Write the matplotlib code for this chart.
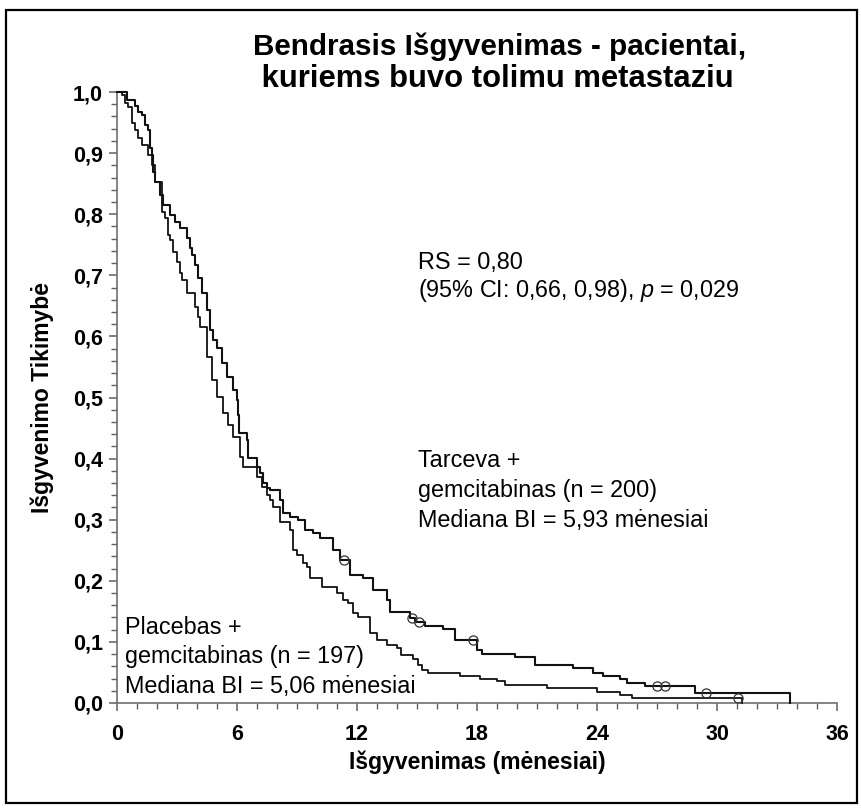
import matplotlib
matplotlib.use('Agg')
import matplotlib.pyplot as plt
import numpy as np
from matplotlib.patches import Rectangle
from matplotlib.ticker import FixedLocator, FixedFormatter, MultipleLocator

plt.rcParams['font.family'] = ['Liberation Sans', 'DejaVu Sans']
plt.rcParams['mathtext.fontset'] = 'custom'
plt.rcParams['mathtext.it'] = 'Liberation Sans:italic'
plt.rcParams['mathtext.rm'] = 'Liberation Sans'

# ---- data ----
# Tarceva + gemcitabinas: drop times (months) and survival after each drop
tarceva_t = [0.5, 0.9, 1.05, 1.25, 1.4, 1.55, 1.65, 1.75, 1.8, 1.9, 2.15, 2.3, 2.65, 2.9,
             3.15, 3.5, 3.65, 3.75, 3.9, 4.05, 4.25, 4.5, 4.65, 4.8, 5.0, 5.25, 5.5, 5.8,
             6.0, 6.05, 6.1, 6.5, 6.55, 7.0, 7.15, 7.3, 7.5, 7.65, 8.15, 8.3, 8.65, 9.05,
             9.4, 9.8, 10.15, 10.8, 11.15, 11.65, 12.3, 12.8, 13.5, 13.65, 14.65, 14.9,
             15.4, 16.3, 16.9, 18.0, 18.25, 19.9, 20.9, 22.8, 23.8, 24.3, 25.15, 25.5,
             26.4, 28.9, 33.65]
tarceva_s = [0.987, 0.977, 0.967, 0.962, 0.946, 0.938, 0.908, 0.897, 0.869, 0.853, 0.831,
             0.815, 0.799, 0.787, 0.777, 0.761, 0.745, 0.733, 0.717, 0.696, 0.671, 0.643,
             0.610, 0.594, 0.581, 0.556, 0.534, 0.512, 0.496, 0.471, 0.442, 0.430, 0.401,
             0.386, 0.376, 0.360, 0.352, 0.349, 0.332, 0.311, 0.304, 0.300, 0.283, 0.278,
             0.270, 0.250, 0.234, 0.209, 0.205, 0.185, 0.169, 0.149, 0.139, 0.133, 0.126,
             0.121, 0.103, 0.087, 0.080, 0.075, 0.062, 0.057, 0.049, 0.044, 0.039, 0.033,
             0.028, 0.016, 0.0]
tarceva_cens = [11.35, 14.75, 15.1, 17.8, 27.0, 27.4, 29.45]

# Placebas + gemcitabinas
placebo_t = [0.25, 0.4, 0.55, 0.75, 0.9, 1.05, 1.25, 1.55, 1.75, 1.9, 2.25, 2.4, 2.55, 2.65,
             2.8, 3.0, 3.15, 3.25, 3.5, 3.9, 4.05, 4.15, 4.5, 4.75, 5.0, 5.3, 5.55, 5.8,
             6.15, 6.3, 7.0, 7.25, 7.5, 7.65, 7.8, 8.15, 8.65, 8.8, 9.0, 9.3, 9.5, 9.65,
             10.25, 11.0, 11.3, 11.55, 11.8, 12.05, 12.65, 13.0, 13.5, 14.0, 14.2, 14.8,
             15.05, 15.25, 15.55, 17.15, 18.15, 19.0, 19.4, 21.5, 24.0, 25.15, 25.75, 31.25]
placebo_s = [0.995, 0.982, 0.975, 0.949, 0.938, 0.925, 0.913, 0.897, 0.881, 0.853, 0.804,
             0.794, 0.766, 0.758, 0.738, 0.722, 0.704, 0.692, 0.671, 0.648, 0.632, 0.615,
             0.566, 0.529, 0.501, 0.475, 0.455, 0.435, 0.403, 0.386, 0.370, 0.354, 0.340,
             0.332, 0.321, 0.296, 0.283, 0.250, 0.242, 0.229, 0.223, 0.205, 0.190, 0.180,
             0.169, 0.164, 0.147, 0.141, 0.115, 0.103, 0.095, 0.090, 0.079, 0.072, 0.062,
             0.054, 0.049, 0.044, 0.039, 0.036, 0.029, 0.025, 0.018, 0.013, 0.008, 0.0]
placebo_cens = [31.05]

x_ticks = [0, 6, 12, 18, 24, 30, 36]
x_ticklabels = ['0', '6', '12', '18', '24', '30', '36']
y_ticks = [0.0, 0.1, 0.2, 0.3, 0.4, 0.5, 0.6, 0.7, 0.8, 0.9, 1.0]
y_ticklabels = ['0,0', '0,1', '0,2', '0,3', '0,4', '0,5', '0,6', '0,7', '0,8', '0,9', '1,0']

title_lines = ['Bendrasis Išgyvenimas - pacientai,', ' kuriems buvo tolimu metastaziu']
xlabel = 'Išgyvenimas (mėnesiai)'
ylabel = 'Išgyvenimo Tikimybė'
stat_lines = ['RS = 0,80', r'(95% CI: 0,66, 0,98), $\mathit{p}$ = 0,029']
tarceva_lines = ['Tarceva +', 'gemcitabinas (n = 200)', 'Mediana BI = 5,93 mėnesiai']
placebo_lines = ['Placebas +', 'gemcitabinas (n = 197)', 'Mediana BI = 5,06 mėnesiai']

W, H = 862, 808
fig = plt.figure(figsize=(W / 100, H / 100), dpi=100)
ax = fig.add_axes([117 / W, 105 / H, (837 - 117) / W, (703 - 92) / H])


def draw_km(t, s, cens, lw):
    tt = np.r_[0.0, np.array(t)]
    ss = np.r_[1.0, np.array(s)]
    ax.step(tt, ss, where='post', color='#111111', lw=lw, clip_on=False, zorder=3)
    idx = np.searchsorted(tt, np.array(cens), side='right') - 1
    ax.plot(cens, ss[idx], 'o', mfc='none', mec='#333333', ms=6.6, mew=0.9,
            clip_on=False, zorder=4)


draw_km(tarceva_t, tarceva_s, tarceva_cens, 1.5)
draw_km(placebo_t, placebo_s, placebo_cens, 1.3)

ax.set_xlim(0, 36)
ax.set_ylim(0, 1.0)
for sp in ['top', 'right']:
    ax.spines[sp].set_visible(False)
for sp in ['left', 'bottom']:
    ax.spines[sp].set_color('#707070')
    ax.spines[sp].set_linewidth(1.2)

ax.xaxis.set_major_locator(FixedLocator(x_ticks))
ax.xaxis.set_major_formatter(FixedFormatter(x_ticklabels))
ax.xaxis.set_minor_locator(MultipleLocator(1))
ax.yaxis.set_major_locator(FixedLocator(y_ticks))
ax.yaxis.set_major_formatter(FixedFormatter(y_ticklabels))
ax.yaxis.set_minor_locator(MultipleLocator(0.02))
ax.tick_params(which='major', direction='out', length=6, width=1.1, color='#606060')
ax.tick_params(which='minor', direction='out', length=4, width=1.0, color='#606060')
ax.tick_params(axis='x', which='major', labelsize=15.5, pad=9)
ax.tick_params(axis='y', which='major', labelsize=15.5, pad=4)
for lab in ax.get_xticklabels() + ax.get_yticklabels():
    lab.set_fontweight('bold')

ax.set_xlabel(xlabel, fontsize=16.5, fontweight='bold', labelpad=4)
ax.set_ylabel(ylabel, fontsize=16.5, fontweight='bold', labelpad=14)

# title
fig.text(253 / W, 1 - 47 / H, title_lines[0], fontsize=21.3, fontweight='bold',
         ha='left', va='center')
fig.text(253 / W, 1 - 79 / H, title_lines[1], fontsize=22.3, fontweight='bold',
         ha='left', va='center')

# annotations
FS = 16.8
for i, line in enumerate(stat_lines):
    fig.text(418 / W, 1 - (262 + 29 * i) / H, line, fontsize=FS, ha='left', va='center')
for i, line in enumerate(tarceva_lines):
    fig.text(418 / W, 1 - (461 + 30 * i) / H, line, fontsize=FS, ha='left', va='center')
for i, line in enumerate(placebo_lines):
    fig.text(125 / W, 1 - (627 + 30 * i) / H, line, fontsize=FS, ha='left', va='center')

# figure frame
fig.patches.append(Rectangle((6 / W, 5 / H), 851 / W, 793 / H, transform=fig.transFigure,
                             fill=False, lw=1.6, ec='black'))

fig.savefig('out.png', dpi=100)
